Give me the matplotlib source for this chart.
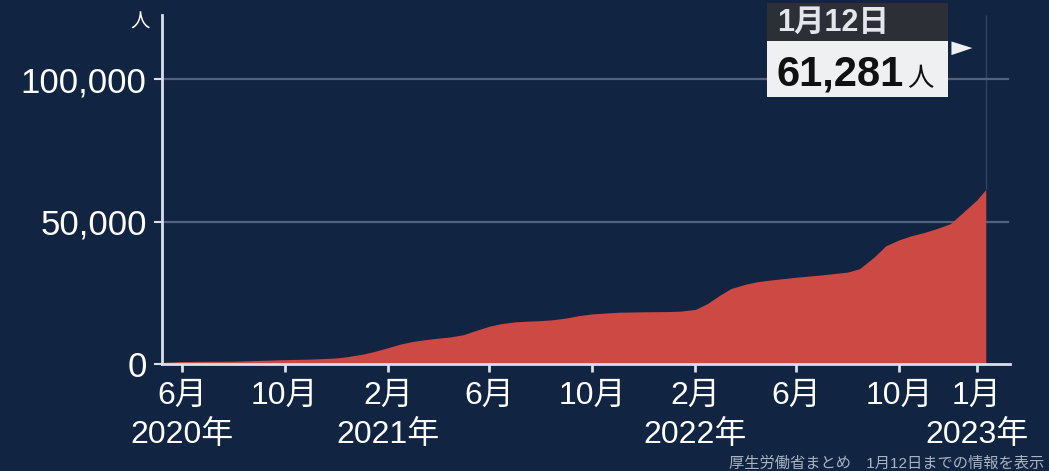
"""Cumulative COVID-19 deaths in Japan, news-graphic style area chart."""

import matplotlib

matplotlib.use("Agg")
import matplotlib.pyplot as plt
import pandas as pd
from matplotlib.patches import Polygon, Rectangle

# Data
DATES = [
    "2020-05-09", "2020-06-01", "2020-07-01", "2020-08-01", "2020-09-01",
    "2020-10-01", "2020-11-01", "2020-11-15", "2020-12-01", "2020-12-15",
    "2021-01-01", "2021-01-15", "2021-02-01", "2021-02-15", "2021-03-01",
    "2021-03-15", "2021-04-01", "2021-04-15", "2021-05-01", "2021-05-15",
    "2021-06-01", "2021-06-15", "2021-07-01", "2021-07-15", "2021-08-01",
    "2021-08-15", "2021-09-01", "2021-09-15", "2021-10-01", "2021-11-01",
    "2021-12-01", "2022-01-01", "2022-01-15", "2022-02-01", "2022-02-15",
    "2022-03-01", "2022-03-15", "2022-04-01", "2022-04-15", "2022-05-01",
    "2022-06-01", "2022-07-01", "2022-08-01", "2022-08-15", "2022-09-01",
    "2022-09-15", "2022-10-01", "2022-10-15", "2022-11-01", "2022-11-15",
    "2022-12-01", "2022-12-15", "2023-01-01", "2023-01-12",
]
DEATHS = [
    620, 900, 975, 1010, 1290,
    1560, 1760, 1930, 2150, 2650,
    3450, 4400, 5800, 7000, 7900,
    8500, 9100, 9500, 10300, 11700,
    13300, 14200, 14800, 15050, 15250,
    15550, 16200, 17000, 17600, 18200,
    18350, 18450, 18600, 19200, 21200,
    24000, 26500, 28000, 28900, 29500,
    30500, 31300, 32300, 33500, 37500,
    41500, 43600, 45000, 46300, 47600,
    49300, 53000, 57500, 61281,
]

TICK_DATES = [
    "2020-06-01", "2020-10-01", "2021-02-01", "2021-06-01", "2021-10-01",
    "2022-02-01", "2022-06-01", "2022-10-01", "2023-01-01",
]
TICK_LABELS = ["6月", "10月", "2月", "6月", "10月", "2月", "6月", "10月", "1月"]
YEAR_DATES = ["2020-06-01", "2021-02-01", "2022-02-01", "2023-01-01"]
YEAR_LABELS = ["2020年", "2021年", "2022年", "2023年"]
Y_TICKS = [0, 50000, 100000]
Y_TICK_LABELS = ["0", "50,000", "100,000"]

LATEST_DATE_LABEL = "1月12日"
LATEST_VALUE_LABEL = "61,281"
SOURCE_NOTE = "厚生労働省まとめ　1月12日までの情報を表示"

BG_COLOR = "#112441"
AREA_COLOR = "#cd4944"
AXIS_COLOR = "#d9dee8"
GRID_COLOR = "#53627d"
FONT = ["Liberation Sans", "Noto Sans CJK JP", "DejaVu Sans"]

plt.rcParams["font.family"] = FONT

dates = pd.to_datetime(DATES)
tick_dates = pd.to_datetime(TICK_DATES)
year_dates = pd.to_datetime(YEAR_DATES)

fig = plt.figure(figsize=(10.49, 4.71), dpi=100, facecolor=BG_COLOR)
ax = fig.add_axes([0.1544, 0.227, 0.8086, 0.741], facecolor=BG_COLOR)

# Grid lines behind the area
for y in Y_TICKS[1:]:
    ax.axhline(y, xmax=0.997, color=GRID_COLOR, linewidth=1.6, zorder=1)

ax.fill_between(dates, DEATHS, 0, color=AREA_COLOR, linewidth=0, zorder=2)
ax.vlines(dates[-1], DEATHS[-1], 122500, color=GRID_COLOR, linewidth=1.0,
          alpha=0.5, zorder=1)

ax.set_xlim(pd.Timestamp("2020-05-08"), pd.Timestamp("2023-02-10"))
ax.set_ylim(0, 122500)

ax.set_xticks(tick_dates)
ax.set_xticklabels(TICK_LABELS, fontsize=23, color="white")
ax.set_yticks(Y_TICKS)
ax.set_yticklabels(Y_TICK_LABELS, fontsize=25, color="white")

ax.tick_params(axis="x", length=6, width=2, color=AXIS_COLOR, pad=6)
ax.tick_params(axis="y", length=6, width=1.5, color=AXIS_COLOR, pad=5)

# Year line under the month labels
for d, label in zip(year_dates, YEAR_LABELS):
    ax.annotate(label, xy=(d, 0), xycoords=("data", "axes fraction"),
                xytext=(0, -51), textcoords="offset points",
                ha="center", va="center", fontsize=23, color="white",
                annotation_clip=False)

for side in ("top", "right"):
    ax.spines[side].set_visible(False)
for side in ("left", "bottom"):
    ax.spines[side].set_color(AXIS_COLOR)
    ax.spines[side].set_linewidth(2)
    ax.spines[side].set_zorder(3)

# Unit label
fig.text(0.1335, 0.952, "人", ha="center", va="center", fontsize=14, color="white")

# Latest value call-out box
fig.patches.append(Rectangle((0.731, 0.913), 0.173, 0.081, transform=fig.transFigure,
                             facecolor="#2c3036", edgecolor="none", figure=fig))
fig.patches.append(Rectangle((0.731, 0.794), 0.173, 0.119, transform=fig.transFigure,
                             facecolor="#eef0f2", edgecolor="none", figure=fig))
fig.patches.append(Polygon([(0.907, 0.912), (0.907, 0.883), (0.927, 0.898)], closed=True,
                           transform=fig.transFigure, facecolor="#eef0f2",
                           edgecolor="none", figure=fig))
fig.text(0.741, 0.951, LATEST_DATE_LABEL, ha="left", va="center", fontsize=22,
         fontweight="bold", color="#e4e6ea")
value_text = fig.text(0.740, 0.818, LATEST_VALUE_LABEL, ha="left", va="baseline",
                      fontsize=30, fontweight="bold", color="#111111")
fig.canvas.draw()
bb = value_text.get_window_extent().transformed(fig.transFigure.inverted())
fig.text(bb.x1 + 0.003, 0.818, "人", ha="left", va="baseline", fontsize=19,
         color="#111111")

# Source note
fig.text(0.995, 0.015, SOURCE_NOTE, ha="right", va="center", fontsize=11,
         color="#aab3c0")

fig.savefig("out.png", dpi=100, facecolor=BG_COLOR)
plt.close(fig)
